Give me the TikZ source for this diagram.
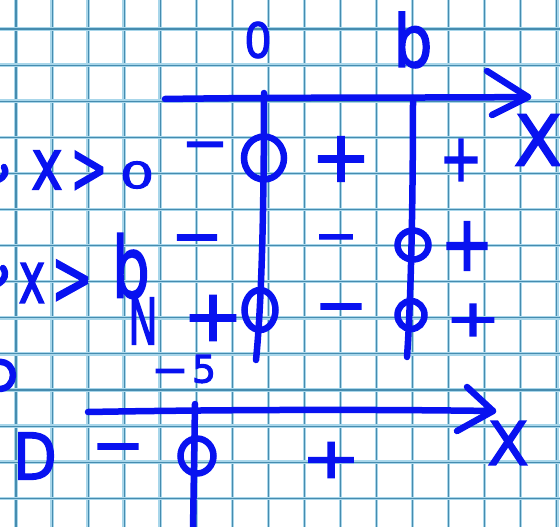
\documentclass[tikz,border=0pt]{standalone}
\usepackage{fontspec}
\usepackage{graphicx}
\setmainfont{DejaVu Sans}
\newfontfamily\hwfam{DejaVu Sans}[FakeBold=2.5]
\usetikzlibrary{shapes.geometric}
\definecolor{ink}{RGB}{8,18,240}
\definecolor{gridlight}{RGB}{168,214,234}
\definecolor{griddark}{RGB}{70,140,175}
\tikzset{
  hw/.style={font=\hwfam\fontsize{#1}{#1}\selectfont, text=ink, inner sep=0pt, outer sep=0pt},
  pen/.style={draw=ink, line width=6.5pt, line cap=round, line join=round},
  ring/.style 2 args={ellipse, draw=ink, line width=6.5pt, minimum width=#1pt, minimum height=#2pt, inner sep=0pt},
}
\begin{document}
\begin{tikzpicture}[x=1pt,y=-1pt]
\useasboundingbox (0,0) rectangle (560,527);
\fill[white] (0,0) rectangle (560,527);
\clip (0,0) rectangle (560,527);
% grid paper
\foreach \i in {0,...,15}{
  \draw[gridlight, line width=3.5pt] ({16+36.05*\i},0) -- ({16+36.05*\i},527);
  \draw[griddark, line width=1.1pt] ({16+36.05*\i},0) -- ({16+36.05*\i},527);
}
\foreach \j in {-1,...,14}{
  \draw[gridlight, line width=3.5pt] (0,{29+36.1*\j}) -- (560,{29+36.1*\j});
  \draw[griddark, line width=1.1pt] (0,{29+36.1*\j}) -- (560,{29+36.1*\j});
}
% ---- top axis
\coordinate (tA) at (165,99);
\coordinate (tB) at (528,97);
\draw[pen] (tA) .. controls (300,97) and (420,98) .. (tB);
\draw[pen] (tB) ++(-41,-26) -- (tB) -- ++(-36,18);
% vertical lines
\coordinate (zTop) at (264,93);
\coordinate (zBot) at (256,360);
\draw[pen] (zTop) .. controls (264,200) and (262,300) .. (zBot);
\coordinate (bTop) at (413,98);
\coordinate (bBot) at (407,357);
\draw[pen] (bTop) .. controls (413,200) and (411,300) .. (bBot);
% bottom axis
\coordinate (uA) at (88,412);
\coordinate (uB) at (493,411);
\draw[pen] (uA) .. controls (200,410) and (350,409) .. (uB);
\draw[pen] (uB) ++(-26,-24) -- (uB) -- ++(-36,20);
\coordinate (mTop) at (195,404);
\coordinate (mBot) at (193,530);
\draw[pen] (mTop) -- (mBot);
% rings
\node[ring={40}{43}] (r1) at (264,158) {};
\node[ring={31}{29}] (r2) at (413,245) {};
\node[ring={31}{40}] (r3) at (260,310) {};
\node[ring={27}{28}] (r4) at (411,315) {};
\node[ring={33}{35}] (r5) at (197,456) {};
% axis labels
\node[hw=48] (lz) at (258,40) {\scalebox{0.9}[1]{0}};
\node[hw=72] (lb) at (413,40) {\scalebox{0.85}[1]{b}};
\node[hw=70] (lx1) at (538,140) {X};
\node[hw=60] (lx2) at (508,443) {X};
\node[hw=38] (l5) at (204,369) {5};
\node[hw=44] (l5m) at (170,377) {−};
% left labels
\node[hw=70] (a1) at (47,170) {\scalebox{0.75}[1]{x}};
\node[hw=55] (a2) at (89,172) {\scalebox{0.8}[1.3]{>}};
\node[hw=36] (a3) at (137,175) {\scalebox{1.5}[1]{0}};
\node[hw=72] (b1) at (32,283) {\scalebox{0.62}[1]{x}};
\node[hw=58] (b2) at (72,282) {\scalebox{0.85}[1.3]{>}};
\node[hw=84] (b3) at (131,266) {\scalebox{0.7}[1]{b}};
\node[hw=64] (nn) at (143,321) {\scalebox{0.62}[1]{N}};
\node[hw=64] (dd) at (35,456) {\scalebox{0.88}[1]{D}};
% partial marks at left edge
\draw[pen] (-2,180) .. controls (5,177) and (7,172) .. (4,167);
\draw[pen] (-2,284) .. controls (5,280) and (7,274) .. (3,268);
\draw[pen] (-2,362) .. controls (18,360) and (18,390) .. (-2,389);
% signs row 1
\node[hw=56] (s11) at (205,152) {−};
\node[hw=71] (s12) at (341,159) {+};
\node[hw=60] (s13) at (461,160) {\scalebox{0.85}[1.1]{+}};
% signs row 2
\node[hw=62] (s21) at (197,246) {−};
\node[hw=52] (s22) at (336,244) {−};
\node[hw=70] (s23) at (467,246) {\scalebox{0.9}[1.1]{+}};
% signs row 3
\node[hw=72] (s31) at (213,318) {+};
\node[hw=63] (s32) at (341,315) {−};
\node[hw=60] (s33) at (473,320) {\scalebox{1.1}[0.85]{+}};
% signs bottom row
\node[hw=63] (s41) at (118,455) {−};
\node[hw=70] (s42) at (331,460) {\scalebox{1}[0.8]{+}};
\end{tikzpicture}
\end{document}
